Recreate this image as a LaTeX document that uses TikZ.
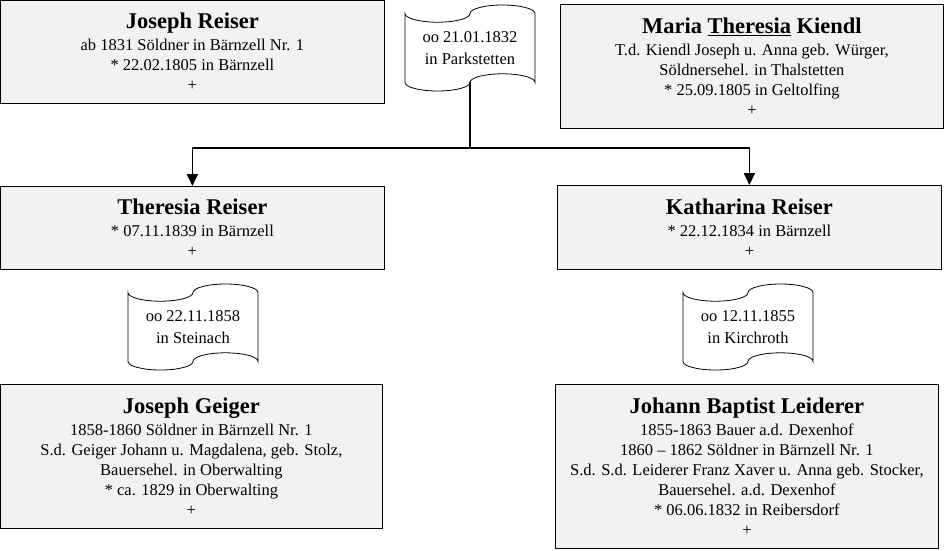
\documentclass[tikz,border=0pt]{standalone}
\usepackage{fontspec}
\setmainfont{Liberation Serif}
\usetikzlibrary{arrows.meta,calc}
\definecolor{boxgrey}{HTML}{F2F2F2}

\tikzset{
  person/.style={draw=black, fill=boxgrey, line width=0.8pt, align=center,
    anchor=north west, inner sep=0pt, font=\fontsize{16.5}{20}\selectfont},
  wedtext/.style={align=center, font=\fontsize{16.5}{21.5}\selectfont},
  flag/.style={draw=black, line width=0.8pt},
  link/.style={line width=1.8pt},
  childlink/.style={link, -{Triangle[width=11pt,length=12pt]}},
}
\newcommand\pname[1]{{\fontsize{22.5}{24}\selectfont\bfseries #1}\\[2pt]}
% wave flag round a marriage node
\newcommand\wedflag[1]{%
  \draw[flag] ($(#1.center)+(-65,-34.4)$)
    arc (180:360:32.5pt and 8.6pt) arc (180:0:32.5pt and 8.6pt) -- ++(0,68.8)
    arc (0:180:32.5pt and 8.6pt) arc (0:-180:32.5pt and 8.6pt) -- cycle;}

\begin{document}
\begin{tikzpicture}[x=1pt, y=-1pt]
  \useasboundingbox (0,0) rectangle (944,550);

  % parents
  \node[person, minimum width=384pt, minimum height=103pt] (josephreiser) at (0,0)
    {\pname{Joseph Reiser}ab 1831 Söldner in Bärnzell Nr. 1\\{}* 22.02.1805 in Bärnzell\\+};
  \node[person, minimum width=383pt, minimum height=124pt] (mariakiendl) at (560,4)
    {\pname{Maria \underline{Theresia} Kiendl}T.d. Kiendl Joseph u. Anna geb. Würger,\\
     Söldnersehel. in Thalstetten\\{}* 25.09.1805 in Geltolfing\\+};
  \node[wedtext] (wed1) at (470,48) {oo 21.01.1832\\in Parkstetten};
  \wedflag{wed1}

  % children
  \node[person, minimum width=384pt, minimum height=83pt] (theresia) at (0,186)
    {\pname{Theresia Reiser}{}* 07.11.1839 in Bärnzell\\+};
  \node[person, minimum width=384pt, minimum height=84pt] (katharina) at (557,185)
    {\pname{Katharina Reiser}{}* 22.12.1834 in Bärnzell\\+};

  \coordinate (wed1bottom) at ($(wed1.center)+(0,34.4)$);
  \coordinate (split) at (470,148);
  \draw[link] (wed1bottom) -- (split);
  \draw[childlink] (split) -| (theresia.north);
  \draw[childlink] (split) -| (katharina.north);

  % marriages of the children
  \node[wedtext] (wed2) at (193,327) {oo 22.11.1858\\in Steinach};
  \wedflag{wed2}
  \node[wedtext] (wed3) at (748,327) {oo 12.11.1855\\in Kirchroth};
  \wedflag{wed3}

  % spouses
  \node[person, minimum width=382pt, minimum height=144pt] (josephgeiger) at (0,384)
    {\pname{Joseph Geiger}1858-1860 Söldner in Bärnzell Nr. 1\\
     S.d. Geiger Johann u. Magdalena, geb. Stolz,\\Bauersehel. in Oberwalting\\
     {}* ca. 1829 in Oberwalting\\+};
  \node[person, minimum width=383pt, minimum height=164pt] (johannleiderer) at (555,384)
    {\pname{Johann Baptist Leiderer}1855-1863 Bauer a.d. Dexenhof\\
     1860 – 1862 Söldner in Bärnzell Nr. 1\\
     S.d. S.d. Leiderer Franz Xaver u. Anna geb. Stocker,\\Bauersehel. a.d. Dexenhof\\
     {}* 06.06.1832 in Reibersdorf\\+};
\end{tikzpicture}
\end{document}
